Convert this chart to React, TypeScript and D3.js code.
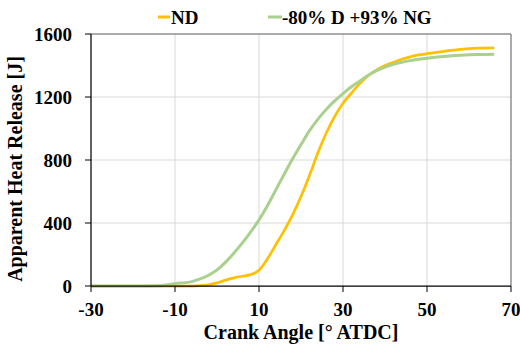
import React from "react";
import * as d3 from "d3";

const angles = [-30, -20, -14, -10, -6, -4, -2, 0, 2, 4, 6, 8, 10, 12, 14, 16, 18, 20, 22, 24, 26, 28, 30, 32, 34, 36, 38, 40, 42, 44, 46, 48, 50, 54, 58, 62, 66];
const ndValues = [0, 0, 0, 0, 0, 2, 8, 20, 37, 52, 62, 72, 100, 172, 262, 352, 452, 568, 700, 845, 970, 1075, 1160, 1225, 1285, 1335, 1372, 1400, 1420, 1440, 1455, 1467, 1475, 1490, 1503, 1510, 1512];
const ngValues = [0, 0, 2, 15, 28, 45, 68, 102, 150, 208, 272, 342, 420, 510, 610, 710, 808, 898, 985, 1058, 1120, 1175, 1222, 1265, 1302, 1338, 1368, 1390, 1408, 1421, 1431, 1439, 1446, 1457, 1465, 1470, 1472];
const xTicks = [-30, -10, 10, 30, 50, 70];
const yTicks = [0, 400, 800, 1200, 1600];
const seriesNames = ["ND", "-80% D +93% NG"];
const seriesColors = ["#FFC000", "#A9D18E"];

const W = 520, H = 345;
const L = 91, R = 511, T = 34, B = 286;
const FONT = "Liberation Serif";

const txt: React.CSSProperties = { fontFamily: FONT, fontWeight: 700 };

export default function App() {
  const x = d3.scaleLinear().domain([-30, 70]).range([L, R]);
  const y = d3.scaleLinear().domain([0, 1600]).range([B, T]);
  const line = d3
    .line<[number, number]>()
    .x((d) => x(d[0]))
    .y((d) => y(d[1]))
    .curve(d3.curveMonotoneX);
  const series = [ndValues, ngValues];
  const xGrid = [-10, 10, 30, 50];
  const yGrid = [400, 800, 1200];

  return (
    <svg width={W} height={H} style={{ position: "absolute", left: 0, top: 0, background: "#fff" }}>
      {xGrid.map((t) => (
        <line key={"gx" + t} x1={x(t)} x2={x(t)} y1={T} y2={B} stroke="#d9d9d9" strokeWidth={1} />
      ))}
      {yGrid.map((t) => (
        <line key={"gy" + t} x1={L} x2={R} y1={y(t)} y2={y(t)} stroke="#d9d9d9" strokeWidth={1} />
      ))}
      <line x1={L} x2={R} y1={T} y2={T} stroke="#595959" strokeWidth={1} />
      <line x1={R} x2={R} y1={T} y2={B} stroke="#595959" strokeWidth={1} />
      {series.map((vals, i) => (
        <path
          key={"s" + i}
          d={line(angles.map((a, j) => [a, vals[j]] as [number, number])) || ""}
          fill="none"
          stroke={seriesColors[i]}
          strokeWidth={i === 0 ? 2.75 : 3}
          strokeLinejoin="round"
        />
      ))}
      <line x1={L} x2={L} y1={T} y2={B} stroke="#000" strokeWidth={1.25} />
      <line x1={L} x2={R} y1={B} y2={B} stroke="#000" strokeWidth={1.25} />
      {yTicks.map((t) => (
        <g key={"yt" + t}>
          <line x1={L - 6} x2={L} y1={y(t)} y2={y(t)} stroke="#000" strokeWidth={1} />
          <text x={72} y={y(t) + 6.5} textAnchor="end" fontSize={19} style={txt} fill="#000">
            {t}
          </text>
        </g>
      ))}
      {xTicks.map((t) => (
        <g key={"xt" + t}>
          <line x1={x(t)} x2={x(t)} y1={B} y2={B + 6} stroke="#000" strokeWidth={1} />
          <text x={x(t)} y={316} textAnchor="middle" fontSize={19} style={txt} fill="#000">
            {t}
          </text>
        </g>
      ))}
      <text x={(L + R) / 2} y={339} textAnchor="middle" fontSize={20} style={txt} fill="#000">
        Crank Angle [° ATDC]
      </text>
      <text transform={`translate(22, 169) rotate(-90)`} textAnchor="middle" fontSize={20} style={txt} fill="#000">
        Apparent Heat Release [J]
      </text>
      <line x1={158} x2={170} y1={17} y2={17} stroke={seriesColors[0]} strokeWidth={3} />
      <text x={171} y={24} fontSize={19} style={txt} fill="#000">
        {seriesNames[0]}
      </text>
      <line x1={268} x2={282} y1={17} y2={17} stroke={seriesColors[1]} strokeWidth={3} />
      <text x={282} y={24} fontSize={19} style={txt} fill="#000">
        {seriesNames[1]}
      </text>
    </svg>
  );
}
